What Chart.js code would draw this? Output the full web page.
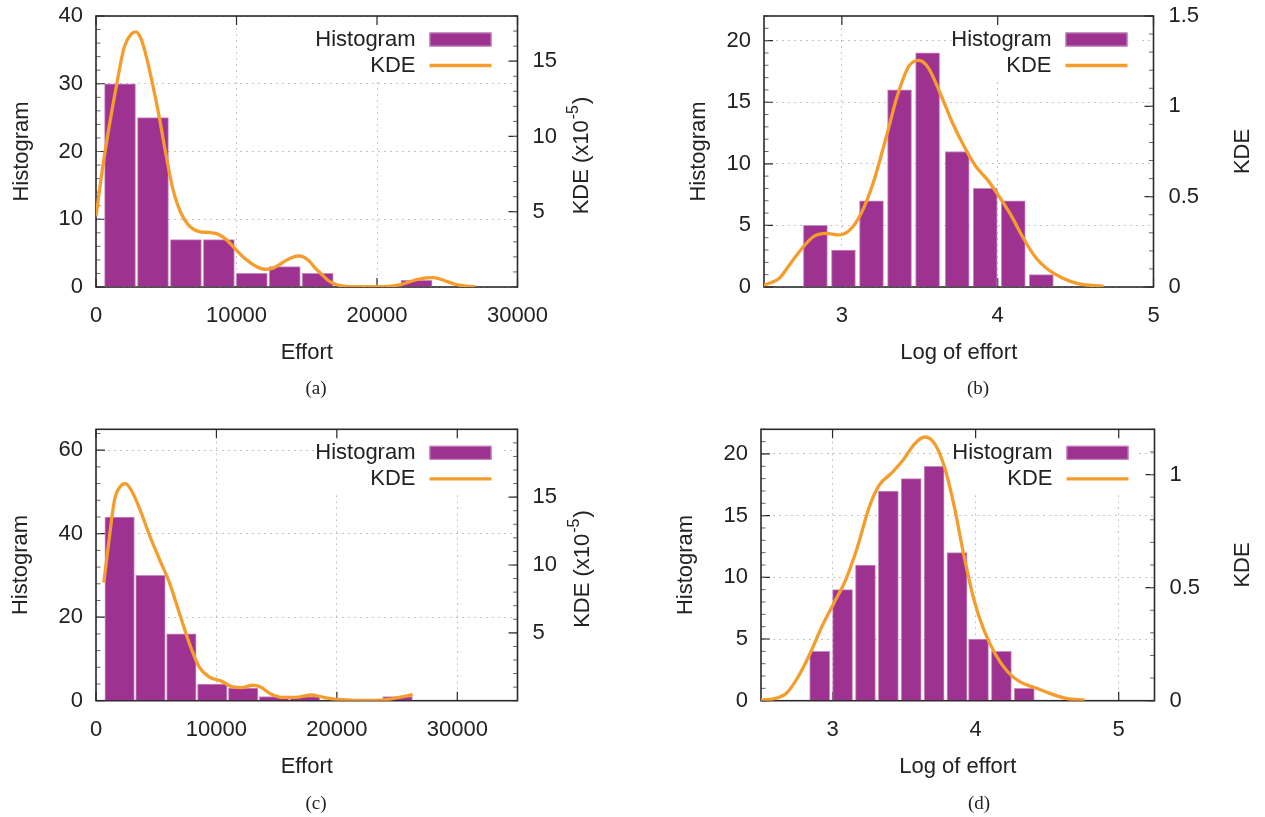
<!DOCTYPE html>
<html>
<head>
<meta charset="utf-8">
<script src="https://cdn.jsdelivr.net/npm/chart.js@4.4.1/dist/chart.umd.min.js"></script>
<style>
  body { margin: 0; background: #fff; width: 1265px; height: 817px; position: relative; overflow: hidden; }
  canvas { position: absolute; }
  .cap { position: absolute; font: 19px "Liberation Serif", "Times New Roman", serif; color: #222; transform: translate(-50%, -50%); }
</style>
</head>
<body>
<canvas id="chartA" width="632" height="408" style="left:0;top:0"></canvas>
<canvas id="chartB" width="633" height="408" style="left:632px;top:0"></canvas>
<canvas id="chartC" width="632" height="409" style="left:0;top:408px"></canvas>
<canvas id="chartD" width="633" height="409" style="left:632px;top:408px"></canvas>
<div class="cap" style="left:316px;top:388px">(a)</div>
<div class="cap" style="left:978px;top:388px">(b)</div>
<div class="cap" style="left:316px;top:803px">(c)</div>
<div class="cap" style="left:979px;top:803px">(d)</div>
<script>
// (a) effort, first dataset
const binsA = [1710, 4055, 6400, 8745, 11090, 13435, 15780, 18125, 20470, 22815];
const countsA = [30, 25, 7, 7, 2, 3, 2, 0, 0, 1];
const kdeXA = [0, 500, 1000, 1500, 2000, 2500, 2850, 3200, 3500, 4000, 4500, 5000, 5500, 6000, 6500, 7000, 7500, 8000, 8500, 9000, 9500, 10000, 10500, 11000, 11500, 12000, 12500, 13000, 13500, 14000, 14400, 14800, 15200, 15600, 16000, 16500, 17000, 17500, 18000, 19000, 20000, 21000, 21500, 22000, 22500, 23000, 23500, 24000, 24500, 25000, 25500, 26000, 26500, 27000];
const kdeYA = [4.7, 8.1, 11.0, 13.6, 15.9, 16.8, 16.95, 16.5, 15.6, 13.6, 11.3, 8.7, 6.4, 5.0, 4.2, 3.8, 3.65, 3.63, 3.56, 3.34, 2.94, 2.45, 1.97, 1.6, 1.32, 1.18, 1.22, 1.45, 1.75, 1.98, 2.06, 1.98, 1.7, 1.25, 0.9, 0.45, 0.2, 0.08, 0.03, 0.02, 0.02, 0.05, 0.12, 0.25, 0.4, 0.52, 0.6, 0.62, 0.52, 0.36, 0.2, 0.1, 0.04, 0.02];

// (b) log of effort, first dataset
const binsB = [2.83, 3.01, 3.19, 3.37, 3.55, 3.74, 3.92, 4.10, 4.28];
const countsB = [5, 3, 7, 16, 19, 11, 8, 7, 1];
const kdeXB = [2.5, 2.6, 2.67, 2.75, 2.82, 2.9, 2.975, 3.05, 3.125, 3.2, 3.28, 3.355, 3.43, 3.495, 3.555, 3.63, 3.71, 3.785, 3.86, 3.935, 4.01, 4.085, 4.16, 4.24, 4.315, 4.415, 4.515, 4.68];
const kdeYB = [0.01, 0.05, 0.13, 0.22, 0.28, 0.297, 0.288, 0.315, 0.41, 0.574, 0.815, 1.056, 1.222, 1.254, 1.213, 1.074, 0.908, 0.778, 0.667, 0.593, 0.5, 0.398, 0.278, 0.167, 0.102, 0.05, 0.019, 0.004];

// (c) effort, second dataset
const binsC = [1960, 4525, 7090, 9655, 12220, 14785, 17350, 19915, 22480, 25045];
const countsC = [44, 30, 16, 4, 3, 1, 1, 0, 0, 1];
const kdeXC = [650, 1050, 1540, 2030, 2450, 3000, 3660, 4480, 5290, 6110, 6930, 7750, 8560, 9380, 10360, 11340, 12160, 12970, 13630, 14450, 15430, 16570, 17880, 18860, 20160, 21470, 23100, 24410, 25390, 26300];
const kdeYC = [8.7, 11.6, 14.8, 15.8, 16.0, 15.4, 14.07, 12.1, 10.38, 8.66, 6.44, 4.22, 2.5, 1.76, 1.46, 1.02, 0.97, 1.14, 1.02, 0.53, 0.24, 0.24, 0.42, 0.26, 0.09, 0.03, 0.03, 0.12, 0.28, 0.45];

// (d) log of effort, second dataset
const binsD = [2.91, 3.07, 3.23, 3.39, 3.55, 3.71, 3.87, 4.02, 4.18, 4.34];
const countsD = [4, 9, 11, 17, 18, 19, 12, 5, 4, 1];
const kdeXD = [2.5, 2.594, 2.677, 2.76, 2.843, 2.925, 3.008, 3.091, 3.174, 3.257, 3.326, 3.409, 3.492, 3.575, 3.644, 3.713, 3.782, 3.851, 3.92, 3.989, 4.058, 4.141, 4.224, 4.307, 4.417, 4.528, 4.638, 4.762];
const kdeYD = [0.003, 0.009, 0.033, 0.106, 0.209, 0.327, 0.43, 0.533, 0.68, 0.857, 0.953, 1.004, 1.063, 1.137, 1.166, 1.137, 1.034, 0.857, 0.636, 0.445, 0.312, 0.202, 0.128, 0.084, 0.057, 0.03, 0.009, 0.003];

// tick labels
const effortTicks = [0, 10000, 20000, 30000];
const logTicks = [3, 4, 5];
const histTicksA = [0, 10, 20, 30, 40];
const histTicksC = [0, 20, 40, 60];
const histTicksLog = [0, 5, 10, 15, 20];
const kdeTicksEffort = [5, 10, 15];
const kdeTicksB = [0, 0.5, 1, 1.5];
const kdeTicksD = [0, 0.5, 1];

const PURPLE = '#9e3291';
const PURPLE_EDGE = '#c98cc0';
const ORANGE = '#f59d2c';
const GRID = '#c4c4c4';
const INK = '#222';
const FONT = '22px "Liberation Sans", Arial, sans-serif';
const SUP_FONT = '16px "Liberation Sans", Arial, sans-serif';

Chart.defaults.font.family = '"Liberation Sans", Arial, sans-serif';
Chart.defaults.font.size = 22;
Chart.defaults.color = INK;

function vText(ctx, x, y, parts) {
    ctx.save();
    ctx.translate(x, y);
    ctx.rotate(-Math.PI / 2);
    ctx.textBaseline = 'middle';
    ctx.textAlign = 'left';
    let w = 0;
    parts.forEach(pt => {
        ctx.font = pt.sup ? SUP_FONT : FONT;
        pt.w = ctx.measureText(pt.t).width + (pt.sup ? 2 : 0);
        w += pt.w;
    });
    let cx = -w / 2;
    parts.forEach(pt => {
        ctx.font = pt.sup ? SUP_FONT : FONT;
        ctx.fillText(pt.t, cx + (pt.sup ? 1 : 0), pt.sup ? -8 : 0);
        cx += pt.w;
    });
    ctx.restore();
}

// border, inward tics, axis titles and key drawn the gnuplot way
function gnuFrame(p) {
    const keyBox = a => {
        const boxR = a.right - 26, boxL = boxR - 62, textR = boxL - 14;
        return { boxR, boxL, textR, y1: a.top + 23.5, y2: a.top + 49.5 };
    };
    return {
        id: 'gnuFrame',
        beforeDatasetsDraw(chart) {
            const { ctx, chartArea: a, scales } = chart;
            ctx.save();
            // opaque key area hides the grid behind it
            const k = keyBox(a);
            ctx.font = FONT;
            const tw = ctx.measureText('Histogram').width;
            ctx.fillStyle = '#fff';
            ctx.fillRect(k.textR - tw, a.top + 8, k.boxR + 10 - (k.textR - tw), 55);

            ctx.strokeStyle = '#2a2a2a';
            ctx.lineWidth = 1.2;
            ctx.beginPath();
            scales.x.ticks.forEach(t => {
                const px = scales.x.getPixelForValue(t.value);
                ctx.moveTo(px, a.bottom); ctx.lineTo(px, a.bottom - 9);
                ctx.moveTo(px, a.top); ctx.lineTo(px, a.top + 9);
            });
            scales.y.ticks.forEach(t => {
                const py = scales.y.getPixelForValue(t.value);
                ctx.moveTo(a.left, py); ctx.lineTo(a.left + 9, py);
            });
            scales.y2.ticks.forEach(t => {
                const py = scales.y2.getPixelForValue(t.value);
                ctx.moveTo(a.right, py); ctx.lineTo(a.right - 9, py);
            });
            ctx.stroke();
            ctx.lineWidth = 1;
            ctx.strokeStyle = '#666';
            ctx.beginPath();
            for (let v = scales.y.min; v <= scales.y.max + 1e-9; v += p.yMinor) {
                const py = scales.y.getPixelForValue(v);
                ctx.moveTo(a.left, py); ctx.lineTo(a.left + 4.5, py);
            }
            for (let v = scales.y2.min; v <= scales.y2.max + 1e-9; v += p.y2Minor) {
                const py = scales.y2.getPixelForValue(v);
                ctx.moveTo(a.right, py); ctx.lineTo(a.right - 4.5, py);
            }
            ctx.stroke();
            ctx.strokeStyle = '#2a2a2a';
            ctx.lineWidth = 1.6;
            ctx.strokeRect(a.left, a.top, a.right - a.left, a.bottom - a.top);
            ctx.restore();
        },
        afterDraw(chart) {
            const { ctx, chartArea: a } = chart;
            ctx.save();
            // key
            const k = keyBox(a);
            ctx.font = FONT;
            ctx.fillStyle = INK;
            ctx.textAlign = 'right';
            ctx.textBaseline = 'middle';
            ctx.fillText('Histogram', k.textR, k.y1);
            ctx.fillText('KDE', k.textR, k.y2);
            ctx.fillStyle = PURPLE;
            ctx.fillRect(k.boxL, k.y1 - 7, 62, 14);
            ctx.strokeStyle = PURPLE_EDGE;
            ctx.lineWidth = 1;
            ctx.strokeRect(k.boxL + 0.5, k.y1 - 6.5, 61, 13);
            ctx.strokeStyle = ORANGE;
            ctx.lineWidth = 3.3;
            ctx.beginPath();
            ctx.moveTo(k.boxL, k.y2); ctx.lineTo(k.boxR, k.y2);
            ctx.stroke();
            // axis titles
            ctx.fillStyle = INK;
            ctx.textAlign = 'center';
            ctx.fillText(p.xTitle, (a.left + a.right) / 2, p.xTitleY);
            vText(ctx, p.yTitleX, (a.top + a.bottom) / 2, [{ t: 'Histogram' }]);
            vText(ctx, p.y2TitleX, (a.top + a.bottom) / 2 + (p.kdeSup ? 4 : 0),
                p.kdeSup ? [{ t: 'KDE (x10' }, { t: '-5', sup: true }, { t: ')' }] : [{ t: 'KDE' }]);
            ctx.restore();
        }
    };
}

function makePanel(id, p) {
    const ctx = document.getElementById(id).getContext('2d');
    const tickList = vals => s => { s.ticks = vals.map(v => ({ value: v })); };
    const fixV = w => s => { s.width = w; s.paddingTop = 0; s.paddingBottom = 0; };
    return new Chart(ctx, {
        type: 'bar',
        data: {
            datasets: [{
                type: 'line',
                label: 'KDE',
                data: p.kdeX.map((x, i) => ({ x: x, y: p.kdeY[i] })),
                yAxisID: 'y2',
                borderColor: ORANGE,
                borderWidth: 3.3,
                pointRadius: 0,
                cubicInterpolationMode: 'monotone',
                order: 0
            }, {
                type: 'bar',
                label: 'Histogram',
                data: p.bins.map((x, i) => ({ x: x, y: p.counts[i] })),
                yAxisID: 'y',
                backgroundColor: PURPLE,
                borderColor: PURPLE_EDGE,
                borderWidth: 1,
                barThickness: p.barW,
                order: 1
            }]
        },
        options: {
            responsive: false,
            animation: false,
            layout: { padding: { top: p.padTop, left: 0, right: 0, bottom: 0 } },
            plugins: { legend: { display: false }, tooltip: { enabled: false } },
            scales: {
                x: {
                    type: 'linear', min: p.xMin, max: p.xMax, offset: false,
                    afterBuildTicks: tickList(p.xTicks),
                    afterFit: s => { s.height = p.bottomH; s.paddingLeft = 0; s.paddingRight = 0; },
                    ticks: { padding: 16, maxRotation: 0, autoSkip: false, callback: v => String(v) },
                    grid: { color: GRID, drawTicks: false, offset: false },
                    border: { display: false, dash: [2, 4] }
                },
                y: {
                    position: 'left', min: 0, max: p.yMax,
                    afterBuildTicks: tickList(p.yTicks),
                    afterFit: fixV(p.leftW),
                    ticks: { padding: 13, callback: v => String(v) },
                    grid: { color: GRID, drawTicks: false },
                    border: { display: false, dash: [2, 4] }
                },
                y2: {
                    position: 'right', min: 0, max: p.y2Max,
                    afterBuildTicks: tickList(p.y2Ticks),
                    afterFit: fixV(p.rightW),
                    ticks: { padding: 15, callback: v => String(v) },
                    grid: { display: false, drawTicks: false },
                    border: { display: false }
                }
            }
        },
        plugins: [gnuFrame(p)]
    });
}

makePanel('chartA', {
    bins: binsA, counts: countsA, kdeX: kdeXA, kdeY: kdeYA, barW: 31,
    xMin: 0, xMax: 30000, xTicks: effortTicks,
    yMax: 40, yTicks: histTicksA, y2Max: 18, y2Ticks: kdeTicksEffort,
    yMinor: 2, y2Minor: 1,
    leftW: 96, rightW: 114.5, padTop: 16, bottomH: 121,
    xTitle: 'Effort', xTitleY: 353, yTitleX: 21.7, y2TitleX: 582, kdeSup: true
});

makePanel('chartB', {
    bins: binsB, counts: countsB, kdeX: kdeXB, kdeY: kdeYB, barW: 24,
    xMin: 2.5, xMax: 5, xTicks: logTicks,
    yMax: 22, yTicks: histTicksLog, y2Max: 1.5, y2Ticks: kdeTicksB,
    yMinor: 1, y2Minor: 0.1,
    leftW: 132, rightW: 111.5, padTop: 16, bottomH: 121,
    xTitle: 'Log of effort', xTitleY: 353, yTitleX: 699.3 - 632, y2TitleX: 1242.7 - 632, kdeSup: false
});

makePanel('chartC', {
    bins: binsC, counts: countsC, kdeX: kdeXC, kdeY: kdeYC, barW: 29.5,
    xMin: 0, xMax: 35000, xTicks: effortTicks,
    yMax: 65, yTicks: histTicksC, y2Max: 20, y2Ticks: kdeTicksEffort,
    yMinor: 4, y2Minor: 1,
    leftW: 96, rightW: 114.5, padTop: 21.3, bottomH: 116.3,
    xTitle: 'Effort', xTitleY: 767 - 408, yTitleX: 21, y2TitleX: 583, kdeSup: true
});

makePanel('chartD', {
    bins: binsD, counts: countsD, kdeX: kdeXD, kdeY: kdeYD, barW: 20,
    xMin: 2.5, xMax: 5.25, xTicks: logTicks,
    yMax: 22, yTicks: histTicksLog, y2Max: 1.2, y2Ticks: kdeTicksD,
    yMinor: 1, y2Minor: 0.1,
    leftW: 129, rightW: 110.5, padTop: 21.3, bottomH: 116.3,
    xTitle: 'Log of effort', xTitleY: 767 - 408, yTitleX: 685.5 - 632, y2TitleX: 1242.7 - 632, kdeSup: false
});
</script>
</body>
</html>
